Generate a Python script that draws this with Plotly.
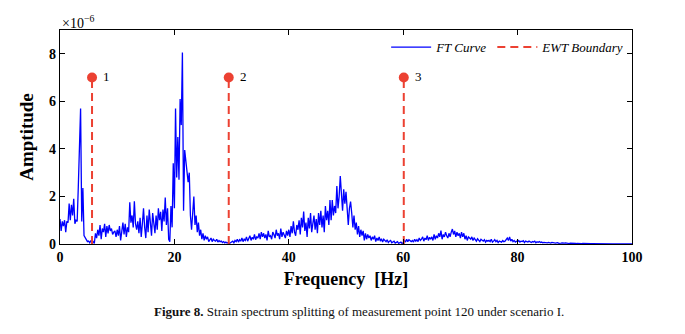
import numpy as np
import plotly.graph_objects as go

# Frequency grid (Hz), 0.2 Hz resolution
freq = np.round(np.arange(0, 100.0001, 0.2), 1)

# FT amplitude, in units of 1e-6, one row per 5 Hz band
amp_rows = [
    [1.05, 0.55, 0.95, 0.75, 1.0, 0.5, 0.95, 0.9, 1.7, 1.0, 1.65, 1.2, 1.9, 0.85, 1.0, 0.95, 2.4, 4.6, 5.7, 0.95, 2.35, 0.35, 0.25, 0.15, 0.1],
    [0.12, 0.05, 0.15, 0.05, 0.1, 0.02, 0.45, 0.25, 0.6, 0.35, 0.8, 0.2, 0.65, 0.5, 0.85, 0.3, 0.75, 0.45, 0.8, 0.55, 0.65, 0.4, 0.5, 0.55, 0.3],
    [0.6, 0.35, 0.75, 0.15, 0.55, 0.9, 0.4, 0.85, 0.3, 0.7, 0.5, 1.75, 0.9, 1.2, 0.7, 1.8, 0.85, 0.6, 0.95, 0.45, 1.1, 0.3, 0.85, 1.5, 0.7],
    [0.25, 1.2, 0.5, 1.45, 0.8, 0.35, 1.3, 0.9, 0.45, 1.2, 0.6, 1.5, 1.0, 1.35, 0.55, 1.45, 0.95, 1.95, 0.8, 1.5, 0.2, 0.1, 1.6, 0.7, 3.4],
    [1.5, 5.7, 2.8, 4.5, 2.7, 6.1, 5.0, 8.05, 1.4, 3.95, 3.5, 2.9, 2.6, 3.0, 1.2, 0.6, 1.5, 2.0, 0.8, 1.2, 0.5, 0.9, 0.35, 0.6, 0.2],
    [0.45, 0.15, 0.35, 0.2, 0.3, 0.1, 0.2, 0.25, 0.1, 0.2, 0.15, 0.12, 0.2, 0.08, 0.15, 0.1, 0.12, 0.06, 0.1, 0.05, 0.08, 0.04, 0.06, 0.02, 0.05],
    [0.08, 0.12, 0.05, 0.15, 0.1, 0.2, 0.08, 0.18, 0.12, 0.25, 0.1, 0.2, 0.15, 0.3, 0.12, 0.22, 0.35, 0.15, 0.28, 0.2, 0.4, 0.18, 0.3, 0.25, 0.45],
    [0.2, 0.5, 0.3, 0.45, 0.25, 0.4, 0.15, 0.55, 0.3, 0.35, 0.2, 0.5, 0.4, 0.25, 0.6, 0.35, 0.45, 0.2, 0.65, 0.3, 0.5, 0.4, 0.25, 0.55, 0.35],
    [0.6, 0.3, 0.75, 0.45, 0.95, 0.5, 0.35, 0.8, 0.6, 1.0, 0.4, 1.1, 0.7, 1.36, 0.55, 0.9, 0.3, 1.1, 0.65, 1.3, 0.5, 0.95, 1.2, 0.6, 1.05],
    [0.45, 1.3, 0.8, 1.4, 0.7, 1.2, 0.5, 1.6, 1.0, 1.4, 0.8, 1.85, 1.0, 1.85, 1.2, 1.6, 1.3, 2.44, 1.5, 2.0, 2.86, 1.9, 1.4, 2.3, 1.7],
    [2.2, 1.6, 0.8, 1.5, 1.78, 1.3, 0.7, 1.2, 0.6, 0.9, 0.4, 0.75, 0.3, 0.6, 0.35, 0.55, 0.15, 0.45, 0.2, 0.4, 0.25, 0.35, 0.15, 0.3, 0.2],
    [0.35, 0.1, 0.25, 0.15, 0.3, 0.12, 0.22, 0.08, 0.2, 0.15, 0.1, 0.18, 0.06, 0.12, 0.15, 0.05, 0.1, 0.12, 0.04, 0.08, 0.1, 0.03, 0.06, 0.08, 0.02],
    [0.05, 0.15, 0.08, 0.2, 0.1, 0.18, 0.12, 0.1, 0.15, 0.08, 0.2, 0.12, 0.18, 0.1, 0.25, 0.15, 0.2, 0.3, 0.12, 0.25, 0.18, 0.35, 0.15, 0.28, 0.2],
    [0.3, 0.15, 0.4, 0.2, 0.35, 0.25, 0.45, 0.3, 0.56, 0.2, 0.4, 0.3, 0.5, 0.35, 0.25, 0.45, 0.3, 0.5, 0.63, 0.4, 0.55, 0.3, 0.5, 0.35, 0.45],
    [0.25, 0.5, 0.3, 0.45, 0.2, 0.35, 0.15, 0.3, 0.25, 0.2, 0.3, 0.15, 0.25, 0.2, 0.12, 0.22, 0.18, 0.1, 0.2, 0.15, 0.12, 0.18, 0.08, 0.15, 0.12],
    [0.15, 0.1, 0.2, 0.08, 0.12, 0.18, 0.1, 0.15, 0.06, 0.12, 0.1, 0.08, 0.15, 0.1, 0.12, 0.2, 0.25, 0.15, 0.3, 0.12, 0.2, 0.1, 0.15, 0.08, 0.12],
    [0.1, 0.15, 0.08, 0.12, 0.1, 0.14, 0.06, 0.12, 0.1, 0.08, 0.12, 0.1, 0.06, 0.1, 0.08, 0.12, 0.05, 0.09, 0.07, 0.1, 0.06, 0.08, 0.05, 0.07, 0.06],
    [0.08, 0.05, 0.07, 0.06, 0.04, 0.07, 0.05, 0.06, 0.04, 0.05, 0.06, 0.03, 0.05, 0.04, 0.05, 0.03, 0.04, 0.05, 0.03, 0.04, 0.02, 0.04, 0.03, 0.02, 0.03],
    [0.03, 0.02, 0.03, 0.02, 0.025, 0.02, 0.015, 0.02, 0.015, 0.02, 0.01, 0.015, 0.01, 0.015, 0.01, 0.012, 0.01, 0.008, 0.01, 0.008, 0.01, 0.006, 0.008, 0.006, 0.008],
    [0.006, 0.005, 0.006, 0.005, 0.004, 0.005, 0.004, 0.004, 0.003, 0.004, 0.003, 0.003, 0.003, 0.002, 0.003, 0.002, 0.002, 0.002, 0.002, 0.002, 0.001, 0.002, 0.001, 0.001, 0.001],
    [0.001],
]
amp = [v for row in amp_rows for v in row]

# EWT boundaries (Hz) and the height of their marker tops (x 1e-6)
boundaries = [5.6, 29.5, 60.1]
boundary_labels = ["1", "2", "3"]
boundary_top = 7.0

x_ticks = [0, 20, 40, 60, 80, 100]
y_ticks = [0, 2, 4, 6, 8]

SERIF = "Liberation Serif"
RED = "#ec4132"

fig = go.Figure()

fig.add_trace(go.Scatter(
    x=freq, y=amp, mode="lines", name="FT Curve",
    line=dict(color="#0000ff", width=1.3),
))

for i, (b, lab) in enumerate(zip(boundaries, boundary_labels)):
    fig.add_trace(go.Scatter(
        x=[b, b], y=[0, boundary_top], mode="lines",
        name="EWT Boundary", showlegend=(i == 0),
        line=dict(color=RED, width=2, dash="8px,5px"),
    ))
    fig.add_trace(go.Scatter(
        x=[b], y=[boundary_top], mode="markers", showlegend=False,
        marker=dict(color=RED, size=10),
    ))
    fig.add_annotation(
        x=b, y=boundary_top, text=lab, showarrow=False,
        xanchor="left", xshift=9, yshift=1,
        font=dict(family=SERIF, size=13, color="black"),
    )

axis_common = dict(
    showgrid=False, zeroline=False, showline=True, linecolor="black",
    linewidth=1.2, mirror="ticks", ticks="inside", ticklen=5,
    tickcolor="black", tickwidth=1,
    tickfont=dict(family=SERIF, size=14, color="black", weight="bold"),
)

fig.update_xaxes(
    range=[0, 100], tickvals=x_ticks,
    title=dict(text="Frequency  [Hz]", standoff=8,
               font=dict(family=SERIF, size=18, color="black", weight="bold")),
    **axis_common,
)
fig.update_yaxes(
    range=[0, 9], tickvals=y_ticks,
    title=dict(text="Amptitude", standoff=10,
               font=dict(family=SERIF, size=19, color="black", weight="bold")),
    **axis_common,
)

# Exponent of the amplitude axis
fig.add_annotation(
    xref="paper", yref="paper", x=0, y=1, xanchor="left", yanchor="bottom",
    text="×10<sup>−6</sup>", showarrow=False, yshift=-3,
    font=dict(family=SERIF, size=14, color="black"),
)

# Figure caption
fig.add_annotation(
    xref="paper", yref="paper", x=0.522, y=0, xanchor="center", yanchor="top",
    yshift=-58, showarrow=False,
    text="<b>Figure 8.</b> Strain spectrum splitting of measurement point 120 under scenario I.",
    font=dict(family=SERIF, size=13, color="#111111"),
)

fig.update_layout(
    width=685, height=334,
    margin=dict(l=60, r=53, t=30, b=90),
    paper_bgcolor="white", plot_bgcolor="white",
    legend=dict(
        orientation="h", x=0.995, xanchor="right", y=0.99, yanchor="top",
        bgcolor="rgba(0,0,0,0)",
        font=dict(family=SERIF, size=13, color="black", style="italic"),
        itemwidth=40, tracegroupgap=0,
    ),
)

fig.write_html("out.html")
